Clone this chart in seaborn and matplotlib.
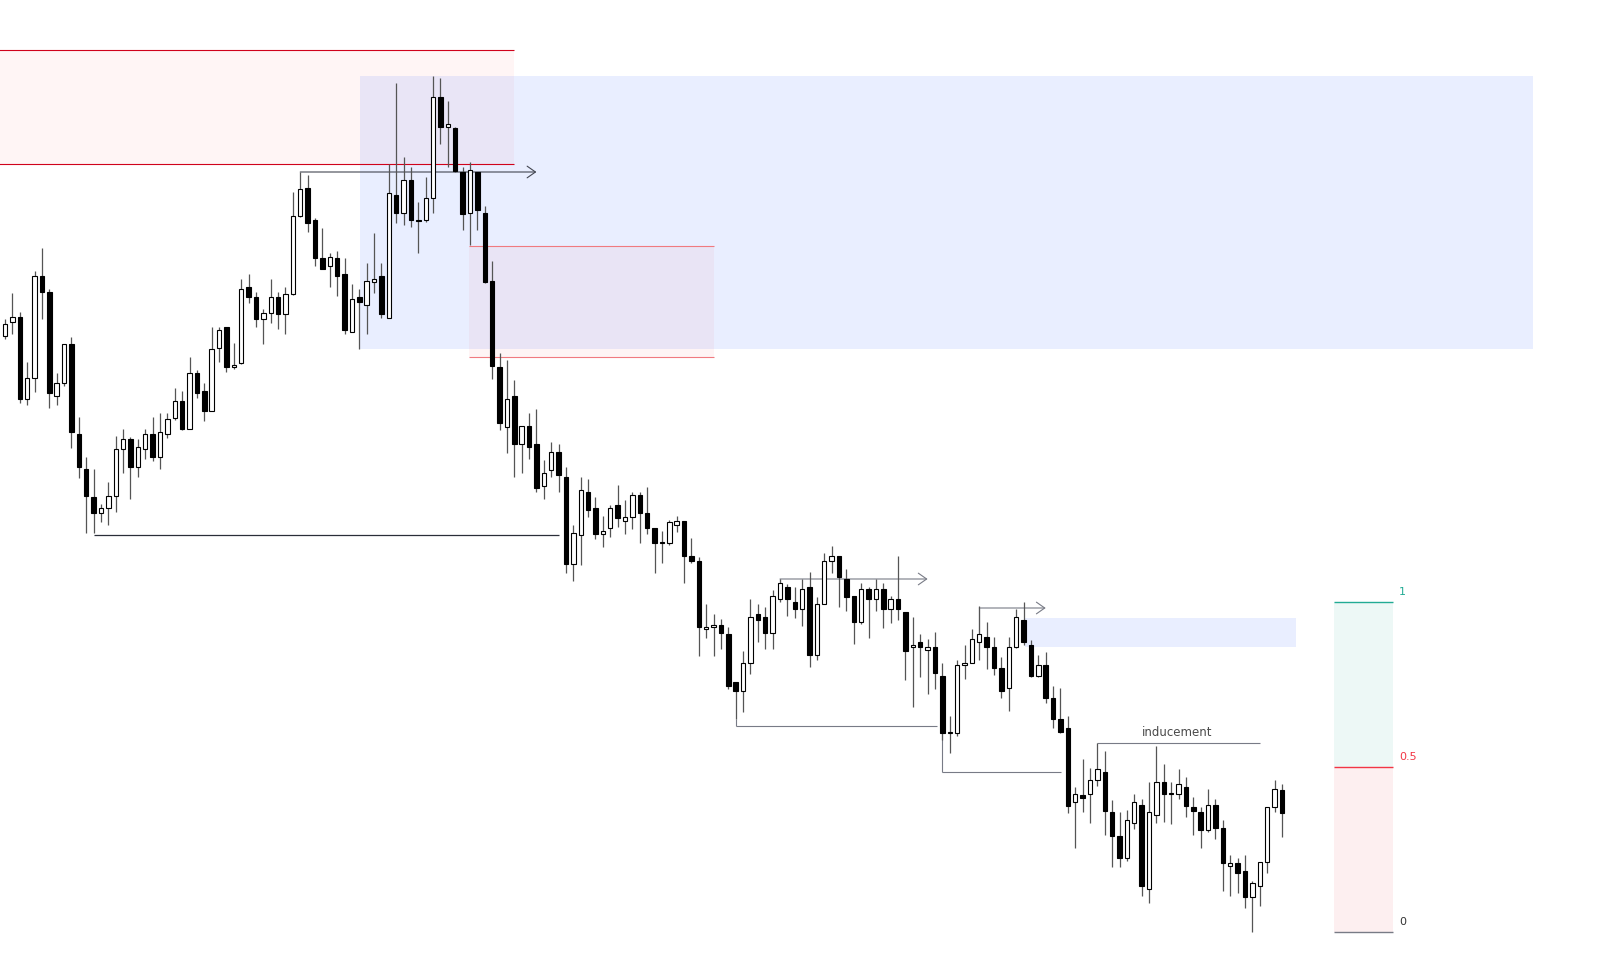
import numpy as np
import pandas as pd
import matplotlib
matplotlib.use("Agg")
import matplotlib.pyplot as plt
from matplotlib.patches import Rectangle
import seaborn as sns

# candle prices (arbitrary price units)
opens = [664, 678, 683, 601, 622, 724, 708, 604, 617, 656, 566, 531, 503, 487, 492, 504, 551, 561, 533, 551,
         566, 543, 566, 582, 599, 571, 627, 609, 589, 652, 673, 633, 637, 713, 703, 681, 687, 703, 686, 706,
         784, 812, 780, 742, 734, 742, 726, 668, 703, 695, 718, 724, 682, 805, 787, 820, 780, 780, 802, 903,
         873, 872, 828, 787, 828, 787, 719, 633, 573, 604, 556, 574, 556, 514, 530, 548, 523, 436, 465, 508,
         492, 466, 472, 495, 479, 483, 505, 487, 472, 457, 457, 475, 479, 444, 439, 371, 373, 375, 366, 318,
         309, 337, 386, 383, 367, 401, 413, 398, 391, 413, 345, 396, 439, 444, 421, 404, 378, 411, 401, 411,
         391, 401, 388, 353, 358, 350, 353, 324, 267, 267, 335, 337, 358, 363, 353, 332, 312, 353, 380, 355,
         324, 335, 302, 281, 272, 198, 205, 206, 220, 228, 188, 164, 142, 177, 195, 111, 185, 218, 206, 206,
         213, 193, 188, 170, 195, 172, 134, 137, 129, 103, 114, 138, 193, 210]
highs = [681, 707, 688, 638, 729, 752, 711, 627, 656, 663, 583, 543, 531, 496, 518, 564, 571, 563, 561, 571,
         583, 587, 587, 612, 609, 643, 630, 617, 673, 673, 673, 657, 721, 726, 708, 691, 721, 708, 713, 808,
         828, 825, 782, 772, 747, 749, 742, 716, 711, 737, 767, 737, 836, 917, 843, 833, 798, 823, 924, 922,
         899, 873, 833, 838, 828, 794, 739, 647, 640, 620, 574, 587, 591, 540, 558, 556, 533, 475, 523, 521,
         503, 484, 495, 515, 500, 508, 508, 513, 472, 469, 480, 484, 479, 462, 443, 396, 386, 381, 373, 318,
         349, 401, 396, 393, 410, 421, 416, 413, 421, 428, 403, 447, 454, 444, 431, 404, 417, 413, 421, 417,
         404, 444, 388, 383, 366, 361, 368, 337, 284, 340, 355, 371, 394, 378, 363, 343, 363, 391, 398, 360,
         345, 348, 314, 312, 284, 213, 241, 232, 257, 249, 200, 188, 190, 206, 201, 218, 254, 236, 218, 231,
         223, 203, 193, 211, 201, 180, 145, 142, 145, 119, 138, 193, 220, 216]
lows = [661, 666, 597, 595, 608, 681, 592, 595, 614, 552, 522, 467, 467, 478, 475, 488, 527, 501, 523, 541,
        539, 531, 562, 580, 570, 571, 602, 579, 589, 638, 628, 631, 636, 697, 673, 656, 677, 671, 666, 705,
        783, 768, 734, 731, 713, 704, 666, 668, 651, 666, 707, 682, 682, 777, 775, 773, 747, 778, 787, 856,
        833, 828, 770, 755, 770, 717, 621, 570, 547, 523, 527, 541, 508, 501, 523, 508, 427, 419, 435, 483,
        461, 453, 463, 473, 466, 471, 457, 466, 427, 437, 455, 468, 417, 437, 344, 362, 344, 351, 311, 281,
        288, 326, 358, 351, 351, 398, 384, 382, 374, 333, 340, 396, 427, 393, 389, 356, 376, 362, 389, 372,
        377, 380, 320, 293, 323, 306, 311, 260, 247, 264, 321, 337, 340, 331, 325, 302, 289, 352, 355, 323,
        323, 297, 272, 267, 187, 152, 188, 177, 214, 165, 133, 133, 139, 171, 104, 97, 177, 178, 176, 201,
        183, 165, 152, 168, 161, 109, 104, 107, 92, 68, 94, 127, 188, 163]
closes = [676, 683, 601, 622, 724, 708, 607, 617, 656, 568, 533, 504, 487, 492, 504, 551, 561, 533, 553, 566,
          543, 568, 581, 599, 571, 627, 607, 589, 651, 670, 633, 635, 711, 703, 681, 687, 703, 686, 706, 784,
          811, 777, 742, 731, 743, 724, 670, 701, 698, 719, 721, 686, 807, 787, 820, 780, 779, 802, 903, 873,
          876, 829, 786, 830, 790, 718, 634, 577, 601, 556, 574, 553, 512, 527, 548, 525, 436, 467, 510, 490,
          466, 469, 492, 482, 483, 505, 487, 472, 457, 457, 478, 479, 444, 439, 373, 373, 375, 367, 314, 309,
          337, 383, 380, 367, 404, 417, 401, 391, 411, 345, 396, 439, 444, 423, 403, 378, 411, 401, 411, 391,
          401, 391, 349, 355, 353, 353, 327, 267, 268, 335, 337, 361, 366, 353, 332, 309, 353, 383, 358, 324,
          335, 302, 281, 268, 194, 206, 202, 220, 231, 189, 164, 142, 180, 198, 114, 188, 218, 206, 206, 216,
          194, 189, 170, 195, 172, 137, 137, 127, 103, 117, 138, 193, 211, 187]

# fib levels of the range tool
fib_levels = [1, 0.5, 0]
fib_labels = ["1", "0.5", "0"]

df = pd.DataFrame({"open": opens, "high": highs, "low": lows, "close": closes})
df["idx"] = np.arange(len(df))
df["bull"] = df["close"] > df["open"]

sns.set_theme(style="white")
fig = plt.figure(figsize=(16, 9.72), dpi=100)
ax = fig.add_axes([0, 0, 1, 1])
ax.set_xlim(-0.68, 216.1)
ax.set_ylim(28, 1000)
ax.axis("off")

# zones
ax.add_patch(Rectangle((-1, 836), 70, 114, facecolor=(1, 0, 0, 0.04), edgecolor="none", zorder=1))
ax.hlines([950, 836], -1, 69, color="#d0021b", lw=0.8, zorder=3)
ax.add_patch(Rectangle((48.1, 651), 158.9, 273, facecolor=(0.16, 0.38, 1.0, 0.1), edgecolor="none", zorder=1))
ax.add_patch(Rectangle((62.9, 643), 33.2, 111, facecolor=(0.95, 0.2, 0.25, 0.05), edgecolor="none", zorder=1))
ax.hlines([754, 643], 62.9, 96.1, color="#f07a80", lw=0.8, zorder=3)
ax.add_patch(Rectangle((138.2, 353), 36.7, 29, facecolor=(0.16, 0.38, 1.0, 0.1), edgecolor="none", zorder=1))

# structure lines
ax.annotate("", xy=(72, 828), xytext=(40, 828),
            arrowprops=dict(arrowstyle="->,head_length=0.5,head_width=0.35", color="#434651", lw=0.8,
                            shrinkA=0, shrinkB=0), zorder=3)
ax.hlines(465, 12, 75, color="#2a2e39", lw=0.9, zorder=3)
ax.annotate("", xy=(125, 421), xytext=(105, 421),
            arrowprops=dict(arrowstyle="->,head_length=0.5,head_width=0.35", color="#787b86", lw=0.8,
                            shrinkA=0, shrinkB=0), zorder=3)
ax.vlines(105, 417, 421, color="#787b86", lw=0.8, zorder=3)
ax.annotate("", xy=(141, 392), xytext=(132, 392),
            arrowprops=dict(arrowstyle="->,head_length=0.5,head_width=0.35", color="#787b86", lw=0.8,
                            shrinkA=0, shrinkB=0), zorder=3)
ax.vlines(132, 366, 392, color="#787b86", lw=0.8, zorder=3)
ax.hlines(274, 99, 126.3, color="#787b86", lw=0.8, zorder=3)
ax.vlines(99, 274, 281, color="#787b86", lw=0.8, zorder=3)
ax.hlines(228, 127, 143.1, color="#787b86", lw=0.8, zorder=3)
ax.vlines(127, 228, 267, color="#787b86", lw=0.8, zorder=3)
ax.hlines(257, 148, 170.1, color="#787b86", lw=0.8, zorder=3)
ax.text(158.8, 267, "inducement", fontsize=8.5, color="#4a4a4a", ha="center", va="center", zorder=4)

# candles
ax.vlines(df["idx"], df["low"], df["high"], color="#555555", lw=0.9, zorder=4)
body_lo = np.minimum(df["open"], df["close"])
body_h = np.maximum(np.abs(df["close"] - df["open"]), 0.8)
ax.bar(df["idx"], body_h, bottom=body_lo, width=0.6,
       color=np.where(df["bull"], "white", "black"), edgecolor="black", linewidth=0.8, zorder=5)

# fib range box
fib_top, fib_bot = 398, 68
fib_x0, fib_x1 = 180.0, 188.1
fib_prices = [fib_bot + lv * (fib_top - fib_bot) for lv in fib_levels]
fib_colors = ["#22ab94", "#f23645", "#787b86"]
ax.add_patch(Rectangle((fib_x0, fib_prices[1]), fib_x1 - fib_x0, fib_prices[0] - fib_prices[1],
                       facecolor=(0.13, 0.67, 0.58, 0.08), edgecolor="none", zorder=1))
ax.add_patch(Rectangle((fib_x0, fib_prices[2]), fib_x1 - fib_x0, fib_prices[1] - fib_prices[2],
                       facecolor=(0.95, 0.21, 0.27, 0.08), edgecolor="none", zorder=1))
for p, lab, col in zip(fib_prices, fib_labels, fib_colors):
    ax.hlines(p, fib_x0, fib_x1, color=col, lw=1.0, zorder=3)
    ax.text(fib_x1 + 0.8, p + 10, lab, fontsize=8, color=col if lab != "0" else "#333333",
            ha="left", va="center", zorder=4)

fig.savefig("out.png", dpi=100)
